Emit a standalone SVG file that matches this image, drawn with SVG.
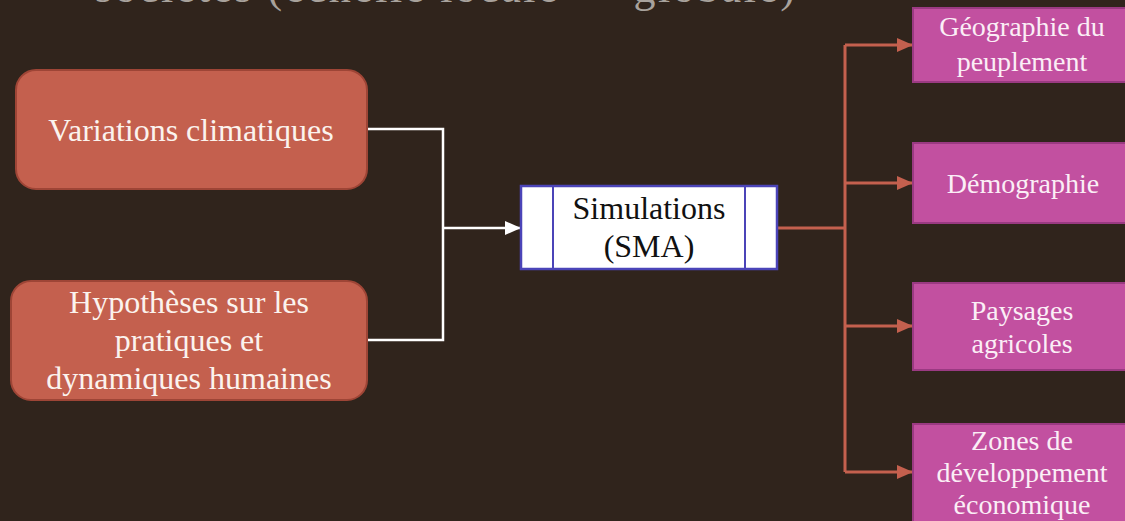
<svg xmlns="http://www.w3.org/2000/svg" width="1125" height="521" viewBox="0 0 1125 521">
<style>
.t{font-family:"Liberation Serif","DejaVu Serif",serif;text-anchor:middle}
.src rect{fill:#c4604e;stroke:#9e4536;stroke-width:2}
.src text{fill:#fbf3ee;font-size:32px}
.out rect{fill:#c250a0;stroke:#9a3a82;stroke-width:2}
.out text{fill:#fbeef6;font-size:28px}
.wl{fill:none;stroke:#ffffff;stroke-width:2.5}
.ol{fill:none;stroke:#c4604e;stroke-width:3}
</style>
<defs>
<marker id="ao" markerWidth="16" markerHeight="14" refX="16" refY="7" orient="auto" markerUnits="userSpaceOnUse" viewBox="0 0 16 14">
<path d="M0,0 L16,7 L0,14 z" fill="#c4604e"/>
</marker>
<marker id="aw2" markerWidth="16" markerHeight="14" refX="16" refY="7" orient="auto" markerUnits="userSpaceOnUse" viewBox="0 0 16 14">
<path d="M0,0 L16,7 L0,14 z" fill="#ffffff"/>
</marker>
</defs>
<rect width="1125" height="521" fill="#30241c"/>
<text class="t" x="445" y="2" font-size="44" fill="#a8a29c" textLength="700" lengthAdjust="spacing">sociétés (échelle locale → globale)</text>
<g id="connectors">
<path class="wl" d="M367,129 H443 V340 H367"/>
<path class="wl" d="M443,228 H521" marker-end="url(#aw2)"/>
<path class="ol" d="M777,228 H845"/>
<path class="ol" d="M845,45 V472"/>
<path class="ol" d="M845,45 H913" marker-end="url(#ao)"/>
<path class="ol" d="M845,183 H913" marker-end="url(#ao)"/>
<path class="ol" d="M845,326 H913" marker-end="url(#ao)"/>
<path class="ol" d="M845,472 H913" marker-end="url(#ao)"/>
</g>
<g id="n-variations" class="src">
<rect x="16" y="70" width="351" height="119" rx="20"/>
<text class="t" x="191" y="141">Variations climatiques</text>
</g>
<g id="n-hypotheses" class="src">
<rect x="11" y="281" width="356" height="119" rx="20"/>
<text class="t" x="189" y="313">Hypothèses sur les</text>
<text class="t" x="189" y="351">pratiques et</text>
<text class="t" x="189" y="389">dynamiques humaines</text>
</g>
<g id="n-simulations">
<rect x="521" y="186" width="256" height="83" fill="#ffffff" stroke="#4b44b8" stroke-width="2.5"/>
<line x1="553" y1="186" x2="553" y2="269" stroke="#4b44b8" stroke-width="2"/>
<line x1="745" y1="186" x2="745" y2="269" stroke="#4b44b8" stroke-width="2"/>
<text class="t" x="649" y="219" font-size="32" fill="#111111">Simulations</text>
<text class="t" x="649" y="257" font-size="32" fill="#111111">(SMA)</text>
</g>
<g id="n-geographie" class="out">
<rect x="913" y="8" width="220" height="74"/>
<text class="t" x="1022" y="36">Géographie du</text>
<text class="t" x="1022" y="71">peuplement</text>
</g>
<g id="n-demographie" class="out">
<rect x="913" y="143" width="220" height="80"/>
<text class="t" x="1023" y="193">Démographie</text>
</g>
<g id="n-paysages" class="out">
<rect x="913" y="283" width="220" height="87"/>
<text class="t" x="1022" y="320">Paysages</text>
<text class="t" x="1022" y="353">agricoles</text>
</g>
<g id="n-zones" class="out">
<rect x="913" y="424" width="220" height="110"/>
<text class="t" x="1022" y="450">Zones de</text>
<text class="t" x="1022" y="482">développement</text>
<text class="t" x="1022" y="514">économique</text>
</g>
</svg>
